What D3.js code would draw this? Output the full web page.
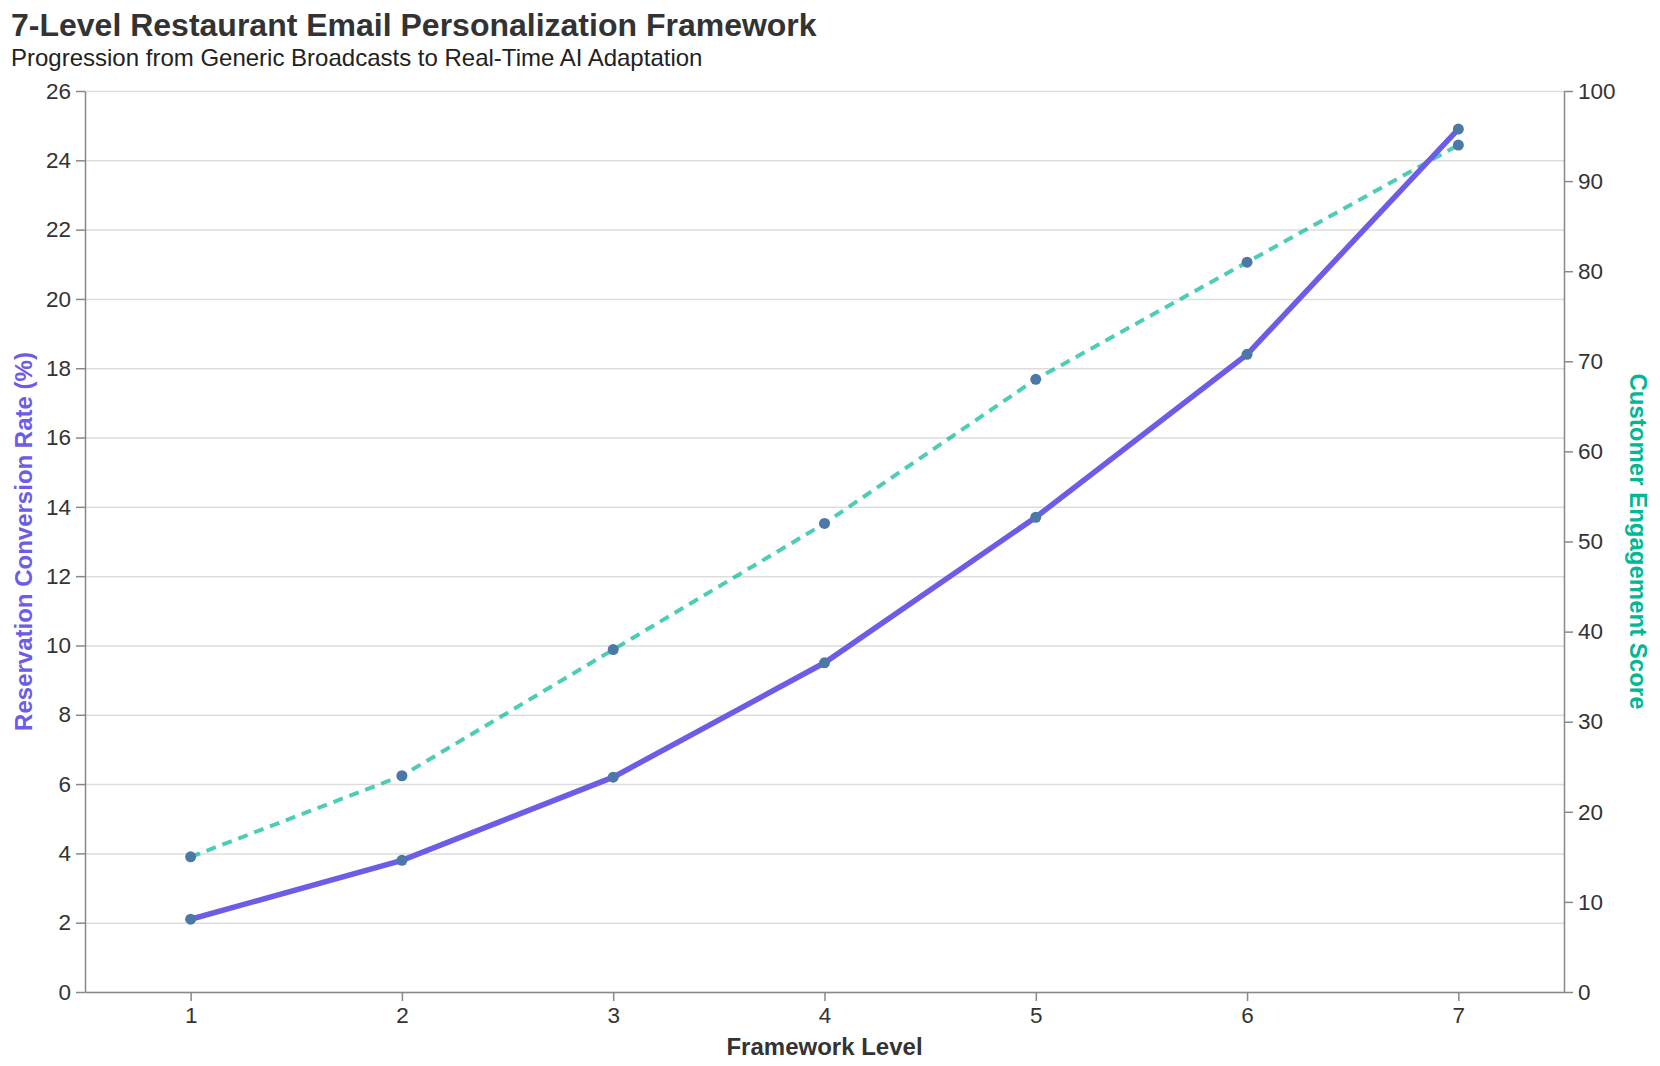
<!DOCTYPE html>
<html lang="en">
<head>
<meta charset="UTF-8">
<title>7-Level Restaurant Email Personalization Framework</title>
<style>
  body { margin: 0; background: #fff; }
  svg { font-family: "Liberation Sans", Arial, sans-serif; }
  .grid line { stroke: #ddd; stroke-width: 1.5; }
  .axis path, .axis line { stroke: #888; stroke-width: 1.5; }
  .axis text { fill: #333; font-size: 22.5px; }
</style>
<script src="https://cdn.jsdelivr.net/npm/d3@7"></script>
</head>
<body>
<script>
// data
var levels = [1, 2, 3, 4, 5, 6, 7];
var conversionRate = [2.1, 3.8, 6.2, 9.5, 13.7, 18.4, 24.9];   // % (left axis)
var engagementScore = [15, 24, 38, 52, 68, 81, 94];            // score (right axis)
var leftTicks = [0, 2, 4, 6, 8, 10, 12, 14, 16, 18, 20, 22, 24, 26];
var rightTicks = [0, 10, 20, 30, 40, 50, 60, 70, 80, 90, 100];

var width = 1660, height = 1066;
var margin = {top: 91, right: 96, bottom: 74, left: 85};
var innerW = width - margin.left - margin.right;
var innerH = height - margin.top - margin.bottom;

var purple = '#6c5ce7', teal = '#00b894', dot = '#4c78a8';

var svg = d3.select('body').append('svg')
  .attr('width', width)
  .attr('height', height);

// title + subtitle
svg.append('text')
  .attr('x', 11).attr('y', 36)
  .attr('font-size', 32).attr('font-weight', 'bold').attr('fill', '#333')
  .text('7-Level Restaurant Email Personalization Framework');
svg.append('text')
  .attr('x', 11).attr('y', 66)
  .attr('font-size', 24).attr('fill', '#222')
  .text('Progression from Generic Broadcasts to Real-Time AI Adaptation');

var g = svg.append('g').attr('transform', 'translate(' + margin.left + ',' + margin.top + ')');

var x = d3.scaleLinear().domain([0.5, 7.5]).range([0, innerW]);
var yL = d3.scaleLinear().domain([0, 26]).range([innerH, 0]);
var yR = d3.scaleLinear().domain([0, 100]).range([innerH, 0]);

// grid from left axis
g.append('g').attr('class', 'grid')
  .call(d3.axisLeft(yL).tickValues(leftTicks).tickSize(-innerW).tickFormat(''))
  .call(function(s) { s.select('.domain').remove(); });

// axes
g.append('g').attr('class', 'axis')
  .attr('transform', 'translate(0,' + innerH + ')')
  .call(d3.axisBottom(x).tickValues(levels).tickSize(9).tickPadding(6).tickSizeOuter(0).tickFormat(d3.format('d')));
g.append('g').attr('class', 'axis')
  .call(d3.axisLeft(yL).tickValues(leftTicks).tickSize(9).tickPadding(5).tickSizeOuter(0));
g.append('g').attr('class', 'axis')
  .attr('transform', 'translate(' + innerW + ',0)')
  .call(d3.axisRight(yR).tickValues(rightTicks).tickSize(9).tickPadding(5).tickSizeOuter(0));

// axis titles
svg.append('text')
  .attr('x', margin.left + innerW / 2).attr('y', 1055)
  .attr('text-anchor', 'middle').attr('font-size', 24).attr('font-weight', 'bold').attr('fill', '#333')
  .text('Framework Level');
svg.append('text')
  .attr('transform', 'translate(32,' + (margin.top + innerH / 2) + ') rotate(-90)')
  .attr('text-anchor', 'middle').attr('font-size', 24).attr('font-weight', 'bold').attr('fill', purple)
  .text('Reservation Conversion Rate (%)');
svg.append('text')
  .attr('transform', 'translate(1630,' + (margin.top + innerH / 2) + ') rotate(90)')
  .attr('text-anchor', 'middle').attr('font-size', 24).attr('font-weight', 'bold').attr('fill', teal)
  .text('Customer Engagement Score');

// lines
var engLine = d3.line()
  .x(function(d, i) { return x(levels[i]); })
  .y(function(d) { return yR(d); });
var convLine = d3.line()
  .x(function(d, i) { return x(levels[i]); })
  .y(function(d) { return yL(d); });

g.append('path').datum(engagementScore)
  .attr('d', engLine)
  .attr('fill', 'none').attr('stroke', teal).attr('stroke-opacity', 0.7)
  .attr('stroke-width', 4).attr('stroke-dasharray', '10,7');
g.append('path').datum(conversionRate)
  .attr('d', convLine)
  .attr('fill', 'none').attr('stroke', purple).attr('stroke-width', 5.5);

// points
g.selectAll('.pt-eng').data(engagementScore).enter().append('circle')
  .attr('class', 'pt-eng')
  .attr('cx', function(d, i) { return x(levels[i]); })
  .attr('cy', function(d) { return yR(d); })
  .attr('r', 5.5).attr('fill', dot);
g.selectAll('.pt-conv').data(conversionRate).enter().append('circle')
  .attr('class', 'pt-conv')
  .attr('cx', function(d, i) { return x(levels[i]); })
  .attr('cy', function(d) { return yL(d); })
  .attr('r', 5.5).attr('fill', dot);
</script>
</body>
</html>
